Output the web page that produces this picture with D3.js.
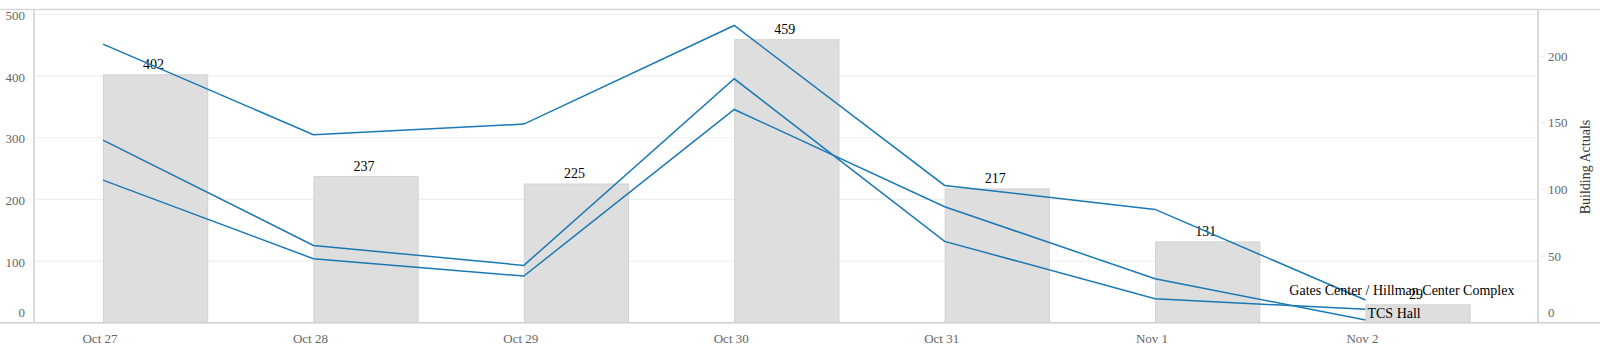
<!DOCTYPE html>
<html>
<head>
<meta charset="utf-8">
<script src="https://cdn.jsdelivr.net/npm/d3@7"></script>
<style>
  body { margin: 0; background: #fff; }
  text { font-family: "Liberation Serif", "Times New Roman", serif; }
</style>
</head>
<body>
<div id="chart"></div>
<script>
// data
var days = ["2023-10-27", "2023-10-28", "2023-10-29", "2023-10-30", "2023-10-31", "2023-11-01", "2023-11-02"];
var dayLabels = ["Oct 27", "Oct 28", "Oct 29", "Oct 30", "Oct 31", "Nov 1", "Nov 2"];
var totals = [402, 237, 225, 459, 217, 131, 29];
var gatesHillman = [209, 141, 149, 223, 103, 85, 17];
var tcsHall = [137, 58, 43, 183, 61, 18, 10];
var otherBuilding = [107, 48, 35, 160, 87, 33, 2];
var leftTicks = [0, 100, 200, 300, 400, 500];
var rightTicks = [0, 50, 100, 150, 200];

// plot box (plotTop etc, "top" is taken by window.top)
var width = 1600, height = 354;
var plotLeft = 34, plotRight = 1538, plotTop = 9.5, plotBottom = 322.7;
var DAY = 864e5;
var parse = d3.timeParse("%Y-%m-%d");
var dates = days.map(parse);

var svg = d3.select("#chart").append("svg")
  .attr("width", width)
  .attr("height", height);

// scales
var x = d3.scaleTime()
  .domain([new Date(+dates[0] - 0.328 * DAY), new Date(+dates[dates.length - 1] + 0.82 * DAY)])
  .range([plotLeft, plotRight]);
var yLeft = d3.scaleLinear().domain([0, 508]).range([plotBottom, plotTop]);
var yRight = d3.scaleLinear().domain([0, 235]).range([plotBottom, plotTop]);
var barW = x(new Date(+dates[0] + 0.5 * DAY)) - x(dates[0]);

// gridlines
svg.append("g").selectAll("line")
  .data(leftTicks.slice(1)).enter()
  .append("line")
    .attr("x1", plotLeft).attr("x2", plotRight)
    .attr("y1", function(d) { return yLeft(d); })
    .attr("y2", function(d) { return yLeft(d); })
    .style("stroke", "#efefef")
    .style("stroke-width", 1.2);

// bars
svg.append("g").selectAll("rect")
  .data(totals).enter()
  .append("rect")
    .attr("x", function(d, i) { return x(dates[i]) + 0.5; })
    .attr("y", function(d) { return yLeft(d); })
    .attr("width", barW - 1)
    .attr("height", function(d) { return plotBottom - yLeft(d); })
    .style("fill", "#dedede")
    .style("stroke", "#d2d2d2")
    .style("stroke-width", 1);

// bar value labels
svg.append("g").selectAll("text")
  .data(totals).enter()
  .append("text")
    .attr("x", function(d, i) { return x(dates[i]) + barW / 2 - 2; })
    .attr("y", function(d) { return yLeft(d) - 6; })
    .attr("text-anchor", "middle")
    .style("font-size", "14px")
    .style("fill", "#000")
    .text(function(d) { return d; });

// frame
svg.append("line").attr("x1", 0).attr("x2", width).attr("y1", plotTop).attr("y2", plotTop)
  .style("stroke", "#d8d8d8").style("stroke-width", 1.5);
svg.append("line").attr("x1", 0).attr("x2", width).attr("y1", plotBottom).attr("y2", plotBottom)
  .style("stroke", "#cfcfcf").style("stroke-width", 1.5);
svg.append("line").attr("x1", plotLeft).attr("x2", plotLeft).attr("y1", plotTop).attr("y2", plotBottom)
  .style("stroke", "#dcdcdc").style("stroke-width", 2);
svg.append("line").attr("x1", plotRight).attr("x2", plotRight).attr("y1", plotTop).attr("y2", plotBottom)
  .style("stroke", "#cfcfcf").style("stroke-width", 1.5);

// lines
var line = d3.line()
  .x(function(d, i) { return x(dates[i]); })
  .y(function(d) { return yRight(d); });

[gatesHillman, tcsHall, otherBuilding].forEach(function(series) {
  svg.append("path")
    .datum(series)
    .attr("d", line)
    .style("fill", "none")
    .style("stroke", "#1a78b4")
    .style("stroke-width", 1.5);
});

// series labels
var xLast = x(dates[dates.length - 1]);
svg.append("text")
  .attr("x", xLast + 149)
  .attr("y", yRight(gatesHillman[6]) - 5)
  .attr("text-anchor", "end")
  .style("font-size", "14px")
  .text("Gates Center / Hillman Center Complex");
svg.append("text")
  .attr("x", xLast + 2)
  .attr("y", yRight(tcsHall[6]) + 9)
  .style("font-size", "14px")
  .text("TCS Hall");

// left axis labels
svg.append("g").selectAll("text")
  .data(leftTicks).enter()
  .append("text")
    .attr("x", 25)
    .attr("y", function(d) { return d === 0 ? plotBottom - 10 : yLeft(d) + 1; })
    .attr("dy", "0.35em")
    .attr("text-anchor", "end")
    .style("font-size", "13px")
    .style("fill", "#666")
    .text(function(d) { return d; });

// right axis ticks + labels
var rAxis = svg.append("g").selectAll("g")
  .data(rightTicks).enter()
  .append("g")
    .attr("transform", function(d) { return "translate(0," + (d === 0 ? plotBottom - 10 : yRight(d)) + ")"; });
rAxis.filter(function(d) { return d > 0; }).append("line")
  .attr("x1", plotRight + 3).attr("x2", plotRight + 7)
  .style("stroke", "#e4e4e4");
rAxis.append("text")
  .attr("x", plotRight + 10)
  .attr("dy", "0.35em")
  .style("font-size", "13px")
  .style("fill", "#666")
  .text(function(d) { return d; });

svg.append("text")
  .attr("transform", "translate(1590,167) rotate(-90)")
  .attr("text-anchor", "middle")
  .style("font-size", "14px")
  .style("fill", "#333")
  .text("Building Actuals");

// x axis labels
svg.append("g").selectAll("text")
  .data(dayLabels).enter()
  .append("text")
    .attr("x", function(d, i) { return x(dates[i]) - 3; })
    .attr("y", 338)
    .attr("dy", "0.35em")
    .attr("text-anchor", "middle")
    .style("font-size", "13px")
    .style("fill", "#666")
    .text(function(d) { return d; });
</script>
</body>
</html>
